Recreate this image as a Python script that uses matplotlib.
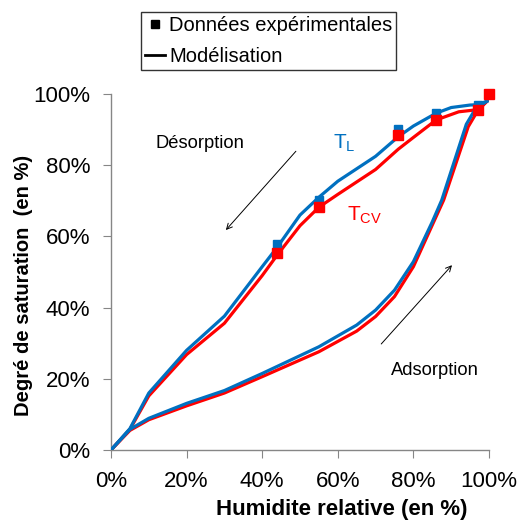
import matplotlib
matplotlib.use("Agg")
import matplotlib.pyplot as plt
from matplotlib.lines import Line2D
from matplotlib.ticker import FuncFormatter

plt.rcParams['font.family'] = ['Liberation Sans', 'DejaVu Sans']

# Model curves (relative humidity %, saturation %)
des_L_rh = [0, 5, 10, 20, 30, 40, 44, 50, 55, 60, 70, 76, 80, 86, 90, 95, 97, 99.5]
des_L_s = [0, 6, 16, 28, 37.6, 51.5, 57, 66, 71, 75.5, 82.5, 88, 91, 94.6, 96.2, 96.9, 97, 98]
des_CV_rh = [0, 5, 10, 20, 30, 40, 44, 50, 55, 60, 70, 76, 80, 86, 92, 97, 99.5]
des_CV_s = [0, 5.8, 15.2, 26.8, 35.6, 49, 54.8, 63, 68.2, 71.8, 78.8, 84.5, 87.8, 92.7, 95, 95.6, 98]
ads_L_rh = [0, 5, 10, 20, 30, 40, 55, 65, 70, 75, 80, 85, 87.5, 94, 96.5, 99.5]
ads_L_s = [0, 5.8, 8.9, 13.1, 16.7, 21.5, 29, 35.1, 39.3, 44.9, 52.9, 64.1, 70.2, 91.5, 96, 98]
ads_CV_rh = [0, 5, 10, 20, 30, 40, 55, 65, 70, 75, 80, 85, 88, 94.5, 97, 99.5]
ads_CV_s = [0, 5.5, 8.5, 12.4, 16, 20.6, 27.6, 33.4, 37.5, 43.1, 51.5, 63.2, 70.2, 90.8, 95.3, 98]

# Experimental data
exp_rh = [44, 55, 76, 86, 97, 100]
exp_L = [57.8, 70.3, 90.2, 94.7, 96.9, 100]
exp_CV = [55.2, 68.2, 88.5, 92.8, 95.6, 100]

blue = '#0070C0'
red = '#FF0000'

fig = plt.figure(figsize=(5.19, 5.25), dpi=100)
ax = fig.add_axes([111/519, 1-450/525, (489-111)/519, (450-94)/525])

ax.plot(des_L_rh, des_L_s, color=blue, lw=2.3, zorder=3)
ax.plot(ads_L_rh, ads_L_s, color=blue, lw=2.3, zorder=3)
ax.plot(des_CV_rh, des_CV_s, color=red, lw=2.3, zorder=2)
ax.plot(ads_CV_rh, ads_CV_s, color=red, lw=2.3, zorder=2)
ax.plot(exp_rh, exp_L, 's', color=blue, ms=5.5, ls='none', zorder=4, clip_on=False)
ax.plot(exp_rh, exp_CV, 's', color=red, ms=6.5, ls='none', zorder=5, clip_on=False)

ax.set_xlim(0, 100)
ax.set_ylim(0, 100)
ax.set_xticks([0, 20, 40, 60, 80, 100])
ax.set_yticks([0, 20, 40, 60, 80, 100])
pct = FuncFormatter(lambda v, p: f'{int(v)}%')
ax.xaxis.set_major_formatter(pct)
ax.yaxis.set_major_formatter(pct)
for s in ['top', 'right']:
    ax.spines[s].set_visible(False)
for s in ['left', 'bottom']:
    ax.spines[s].set_color('#868686')
    ax.spines[s].set_linewidth(1)
ax.tick_params(direction='out', length=6, color='#868686', labelsize=16, pad=9)

ax.set_xlabel('Humidite relative (en %)', fontsize=16, fontweight='bold')
ax.set_ylabel('Degré de saturation  (en %)', fontsize=14.5, fontweight='bold')
ax.xaxis.set_label_coords(0.611, -0.138)
ax.yaxis.set_label_coords(-0.206, 0.463)

ax.text(23.5, 86.2, 'Désorption', fontsize=13.2, ha='center', va='center')
ax.text(85.8, 22.2, 'Adsorption', fontsize=13.2, ha='center', va='center')
ax.text(58.7, 86.2, r'$\mathregular{T_L}$', fontsize=15, color=blue, ha='left', va='center')
ax.text(62.4, 66.0, r'$\mathregular{T_{CV}}$', fontsize=15, color=red, ha='left', va='center')

ax.annotate('', xy=(29.9, 61.2), xytext=(49.4, 84.5),
            arrowprops=dict(arrowstyle='->', color='black', lw=0.7))
ax.annotate('', xy=(90.7, 52.5), xytext=(71, 29.2),
            arrowprops=dict(arrowstyle='->', color='black', lw=0.7))

handles = [Line2D([], [], marker='s', color='black', ls='none', ms=6),
           Line2D([], [], color='black', lw=2)]
leg = fig.legend(handles, ['Données expérimentales', 'Modélisation'],
                 loc='upper left', bbox_to_anchor=(141/519, 1-12/525),
                 fontsize=14.5, frameon=True, fancybox=False, borderpad=0.2,
                 handlelength=1.0, handletextpad=0.2, labelspacing=0.6,
                 borderaxespad=0)
leg.get_frame().set_edgecolor('black')
leg.get_frame().set_linewidth(1)

fig.savefig('out.png', dpi=100)
